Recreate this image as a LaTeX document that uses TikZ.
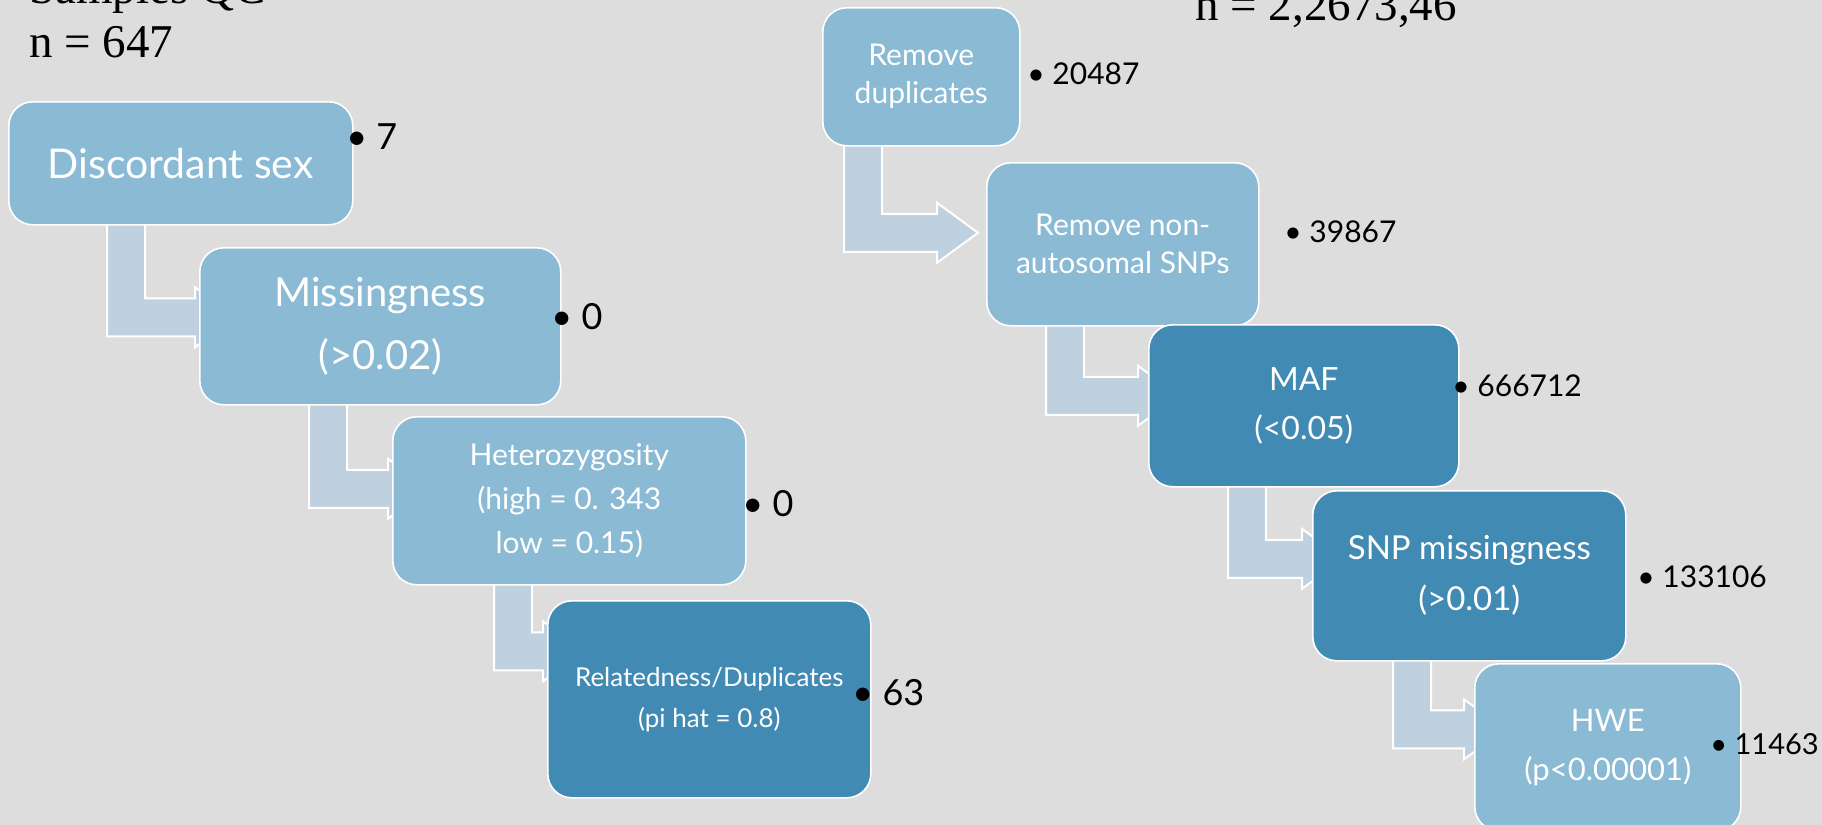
\documentclass[tikz,border=0pt]{standalone}
\usepackage{fontspec}
\setmainfont{Lato}
\newfontfamily\headfont{Liberation Serif}
\usetikzlibrary{calc}
\definecolor{Backdrop}{HTML}{DDDDDD}
\definecolor{StepLight}{HTML}{8BBAD5}
\definecolor{StepDark}{HTML}{418AB3}
\definecolor{Bend}{HTML}{BFD0DF}
\newcommand{\boxfont}[2]{\fontsize{#1}{#2}\selectfont}
\pgfdeclarelayer{bends}
\pgfsetlayers{bends,main}
\tikzset{
  qcbox/.style={draw=white,line width=0.8pt,rounded corners=12pt,fill=StepLight,text=white,align=center,anchor=north west,inner sep=0pt},
  qcdark/.style={qcbox,fill=StepDark},
  count/.style={anchor=west,text=black,inner sep=0pt},
  header/.style={anchor=base west,inner sep=0pt,font=\headfont\boxfont{23.5}{28}},
  bendarrow/.style={fill=Bend,draw=white,line width=1pt,line join=miter}
}
\begin{document}
\begin{tikzpicture}[x=0.5pt,y=-0.5pt]
  \useasboundingbox (0,0) rectangle (1822,825);
  \clip (0,0) rectangle (1822,825);
  \begin{pgfonlayer}{bends}
    \fill[Backdrop] (0,0) rectangle (1822,825);
  \end{pgfonlayer}
  % headers
  \node[header] (sampleqc) at (29,3) {Samples QC};
  \node[header] (nsample) at (29,57) {n = 647};
  \node[header] (nsnp) at (1195,20) {n = 2,2673,46};
  % sample steps
  \node[qcbox,minimum width=172pt,minimum height=61.5pt,font=\boxfont{20.5}{30}] (dsex) at (8,101) {Discordant sex};
  \node[qcbox,minimum width=180.5pt,minimum height=78.5pt,font=\boxfont{20}{31.5}] (miss) at (199,247) {Missingness\\(>0.02)};
  \node[qcbox,minimum width=176.5pt,minimum height=84pt,font=\boxfont{15}{22}] (het) at (392,416) {Heterozygosity\\(high = 0. 343\\low = 0.15)};
  \node[qcdark,minimum width=161.5pt,minimum height=98.5pt,font=\boxfont{13}{20.5}] (rel) at (547,600) {Relatedness/Duplicates\\(pi hat = 0.8)};
  % snp steps
  \node[qcbox,minimum width=98.5pt,minimum height=69pt,font=\boxfont{15}{19}] (rdup) at (822,7) {Remove\\duplicates};
  \node[qcbox,minimum width=136pt,minimum height=81.5pt,font=\boxfont{15}{19}] (rnon) at (986,162) {Remove non-\\autosomal SNPs};
  \node[qcdark,minimum width=155pt,minimum height=81pt,font=\boxfont{16}{24.5}] (maf) at (1148,324) {MAF\\(<0.05)};
  \node[qcdark,minimum width=156.5pt,minimum height=85pt,font=\boxfont{16.5}{25.5}] (snpm) at (1312,490) {SNP missingness\\(>0.01)};
  \node[qcbox,minimum width=133pt,minimum height=83.5pt,font=\boxfont{15.5}{24.5}] (hwe) at (1474,663) {HWE\\(p<0.00001)};
  % removed counts
  \node[count,font=\boxfont{18}{20}] (cdsex) at (346,137) {• 7};
  \node[count,font=\boxfont{18}{20}] (cmiss) at (551,317) {• 0};
  \node[count,font=\boxfont{18}{20}] (chet) at (742,504) {• 0};
  \node[count,font=\boxfont{18}{20}] (crel) at (852,693) {• 63};
  \node[count,font=\boxfont{15}{18}] (crdup) at (1027,74) {• 20487};
  \node[count,font=\boxfont{15}{18}] (crnon) at (1284,232) {• 39867};
  \node[count,font=\boxfont{15}{18}] (cmaf) at (1452,386) {• 666712};
  \node[count,font=\boxfont{15}{18}] (csnpm) at (1637,577) {• 133106};
  \node[count,font=\boxfont{14.5}{18}] (chwe) at (1710,744) {• 11463};
  % bent arrows behind the boxes
  \begin{pgfonlayer}{bends}
    \foreach \a/\b/\dx/\dy/\xs in {dsex/miss/99/-9/-4, miss/het/110/-12/-4, het/rel/102/-48/-4,
        rdup/rnon/22/-11.5/-49, rnon/maf/60/-10/-10, maf/snpm/80/-17/-10, snpm/hwe/81/-18/-10}{
      \coordinate (top) at ($(\a.south west)+(\dx,-6)$);
      \coordinate (mid) at ($(\b.west)+(0,\dy)$);
      \draw[bendarrow] (top) -- ++(38,0) |- ($(mid)+(\xs,-19)$) -- ++(0,-11)
        -- ($(mid)+(\xs+41,0)$) -- ($(mid)+(\xs,30)$) -- ++(0,-11) -| (top) -- cycle;
    }
  \end{pgfonlayer}
\end{tikzpicture}
\end{document}
